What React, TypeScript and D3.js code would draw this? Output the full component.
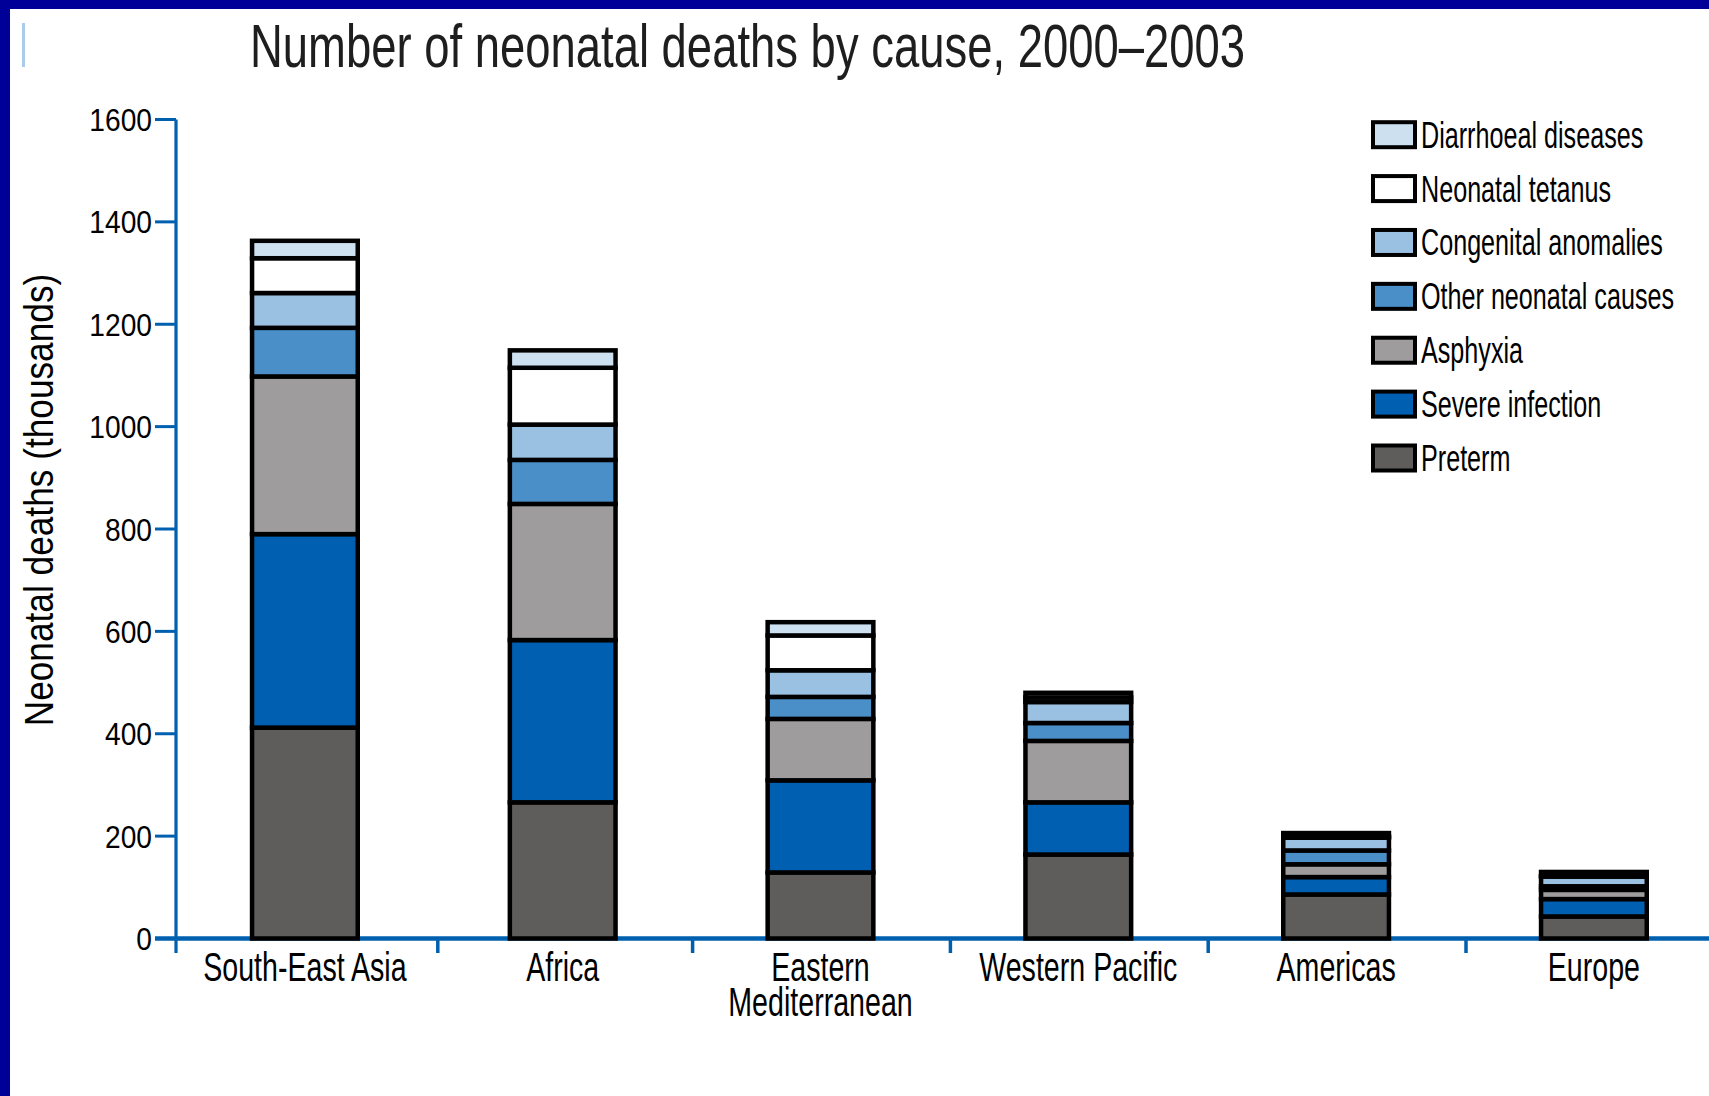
import React from "react";
import * as d3 from "d3";

// ---------- data ----------
const categories = ["South-East Asia", "Africa", "Eastern Mediterranean", "Western Pacific", "Americas", "Europe"];
const categoryLabelLines = [["South-East Asia"], ["Africa"], ["Eastern", "Mediterranean"], ["Western Pacific"], ["Americas"], ["Europe"]];

// stacked bottom -> top (thousands)
const preterm = [412, 266, 129, 164, 86, 43];
const severeInfection = [378, 317, 180, 102, 34, 34];
const asphyxia = [308, 266, 120, 120, 25, 18];
const otherNeonatal = [95, 86, 43, 35, 27, 7];
const congenital = [68, 69, 52, 41, 25, 19];
const tetanus = [68, 111, 68, 9, 2, 1];
const diarrhoeal = [34, 34, 26, 9, 7, 8];

const seriesKeys = ["preterm", "severe", "asphyxia", "other", "congenital", "tetanus", "diarrhoeal"];
const seriesNames = ["Preterm", "Severe infection", "Asphyxia", "Other neonatal causes", "Congenital anomalies", "Neonatal tetanus", "Diarrhoeal diseases"];
const seriesValues = [preterm, severeInfection, asphyxia, otherNeonatal, congenital, tetanus, diarrhoeal];
const seriesColors = ["#5f5c5c", "#005fb0", "#9e9c9d", "#4a8fc8", "#9bc1e2", "#ffffff", "#cde0f0"];

const yTicks = [0, 200, 400, 600, 800, 1000, 1200, 1400, 1600];
const titleText = "Number of neonatal deaths by cause, 2000\u20132003";
const yTitleText = "Neonatal deaths (thousands)";

// ---------- layout ----------
const W = 1709;
const H = 1096;
const FONT = "'Liberation Sans', Arial, Helvetica, sans-serif";
const AXIS = "#0060b0";

export default function App() {
  const rows = categories.map((c, i) => {
    const r: any = { cat: c };
    seriesKeys.forEach((k, j) => (r[k] = seriesValues[j][i]));
    return r;
  });
  const stacked = d3.stack().keys(seriesKeys)(rows);

  const step = 257.8;
  const x0 = 176;
  const padIn = 0.59;
  const x = d3
    .scaleBand()
    .domain(categories)
    .range([x0, x0 + step * categories.length])
    .paddingInner(padIn)
    .paddingOuter(padIn / 2);
  const y = d3.scaleLinear().domain([0, 1600]).range([938.5, 119.5]);

  const bw = x.bandwidth();
  const boundaries = categories.slice(1).map((_, i) => x0 + x.step() * (i + 1) + (i === 0 ? 4 : 1));

  const legendOrder = seriesKeys.map((_, i) => i).reverse();
  const ly = d3.scalePoint().domain(legendOrder.map(String)).range([134.7, 458]);

  return (
    <svg width={W} height={H} style={{ position: "absolute", left: 0, top: 0, background: "#fff" }} fontFamily={FONT}>
      <rect x={0} y={0} width={W} height={H} fill="#ffffff" />
      {/* frame */}
      <rect x={0} y={0} width={W} height={9} fill="#000099" />
      <rect x={0} y={0} width={10} height={H} fill="#000099" />
      <rect x={22} y={23} width={3} height={44} fill="#abcbea" />

      {/* title */}
      <text transform={`translate(250,67) scale(0.745,1)`} fontSize={61} fill="#1e1e1e">
        {titleText}
      </text>

      {/* y axis title */}
      <text transform={`translate(53,500) rotate(-90) scale(0.86,1)`} fontSize={41} textAnchor="middle" fill="#000">
        {yTitleText}
      </text>

      {/* y axis */}
      <line x1={x0} x2={x0} y1={y(1600)} y2={953} stroke={AXIS} strokeWidth={3.2} />
      {yTicks.map((t) => (
        <g key={t}>
          <line x1={155} x2={x0} y1={y(t)} y2={y(t)} stroke={AXIS} strokeWidth={3} />
          <text transform={`translate(152,${y(t) + 11.5}) scale(0.88,1)`} fontSize={32} textAnchor="end" fill="#000">
            {t}
          </text>
        </g>
      ))}

      {/* x axis */}
      <line x1={155} x2={W} y1={y(0)} y2={y(0)} stroke={AXIS} strokeWidth={4.5} />
      {boundaries.map((b, i) => (
        <line key={i} x1={b} x2={b} y1={y(0)} y2={953} stroke={AXIS} strokeWidth={3.5} />
      ))}

      {/* bars */}
      {stacked.map((s: any, si: number) => (
        <g key={s.key}>
          {s.map((d: any, i: number) => (
            <rect
              key={i}
              x={x(categories[i])}
              width={bw}
              y={y(d[1])}
              height={Math.max(0, y(d[0]) - y(d[1]))}
              fill={seriesColors[si]}
              stroke="#000"
              strokeWidth={4.5}
            />
          ))}
        </g>
      ))}

      {/* category labels */}
      {categories.map((c, i) => {
        const cx = (x(c) as number) + bw / 2;
        return (
          <text key={c} transform={`translate(${cx},981) scale(0.715,1)`} fontSize={40} textAnchor="middle" fill="#000">
            {categoryLabelLines[i].map((line, li) => (
              <tspan key={li} x={0} y={li * 35}>
                {line}
              </tspan>
            ))}
          </text>
        );
      })}

      {/* legend */}
      {legendOrder.map((si) => {
        const cy = ly(String(si)) as number;
        return (
          <g key={si}>
            <rect x={1373} y={cy - 12.5} width={42} height={25} fill={seriesColors[si]} stroke="#000" strokeWidth={4} />
            <text transform={`translate(1421,${cy + 13}) scale(0.68,1)`} fontSize={37} fill="#000">
              {seriesNames[si]}
            </text>
          </g>
        );
      })}
    </svg>
  );
}
